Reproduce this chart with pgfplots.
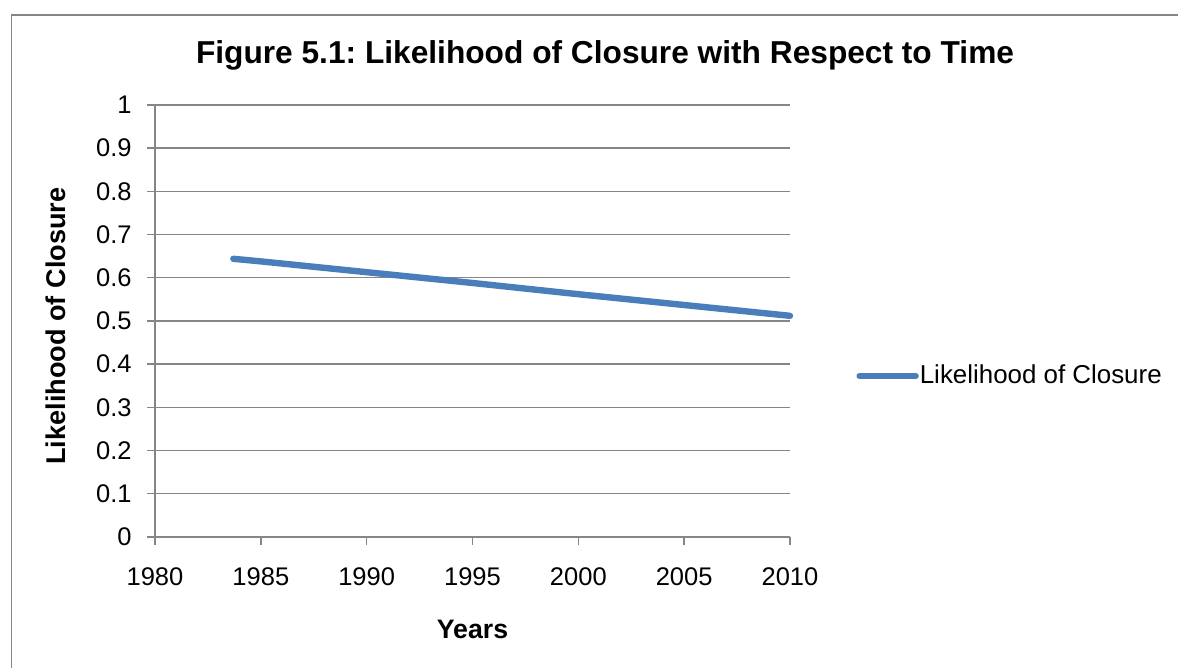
\documentclass[border=0pt]{standalone}
\usepackage{fontspec}
\setmainfont{Liberation Sans}
\usepackage{pgfplots}
\pgfplotsset{compat=1.18}
\definecolor{exblue}{HTML}{4A7EBB}
\definecolor{exgray}{HTML}{868686}
\frenchspacing
\begin{document}
\begin{tikzpicture}
\useasboundingbox (0,0) rectangle (589bp,334bp);
\draw[exgray, line width=0.7bp] (5.75bp,-10bp) -- (5.75bp,326.5bp) -- (600bp,326.5bp);
\node[font=\fontsize{15.9}{17}\selectfont\bfseries, anchor=base] at (302.5bp,302bp) {Figure 5.1: Likelihood of Closure with Respect to Time};
\begin{axis}[
  at={(77.5bp,65.5bp)}, anchor=south west,
  scale only axis, width=317.5bp, height=216bp,
  xmin=1980, xmax=2010, ymin=0, ymax=1,
  xtick={1980,1985,...,2010},
  ytick={0,0.1,...,1.01},
  /pgf/number format/1000 sep={},
  /pgf/number format/assume math mode=true,
  ymajorgrids, major grid style={exgray, line width=0.7bp},
  axis line style={exgray, line width=0.7bp},
  axis x line*=bottom, axis y line*=left,
  tick align=outside, major tick length=4bp,
  tick style={exgray, line width=0.7bp},
  tick label style={font=\fontsize{12.8}{14}\selectfont},
  yticklabel style={anchor=east, inner sep=0pt, xshift=-7.5bp},
  xticklabel style={anchor=north, inner sep=0pt, yshift=-11bp},
  x axis line style={-}, y axis line style={-},
  xlabel={\textbf{Years}},
  ylabel={\textbf{Likelihood of Closure}},
  xlabel style={font=\fontsize{13.4}{14}\selectfont, at={(0.5,-0.235)}, anchor=base},
  ylabel style={font=\fontsize{13.6}{14}\selectfont, at={(-0.141,0.488)}, anchor=base},
  legend style={draw=none, at={(1.104,0.3727)}, anchor=west, font=\fontsize{13}{14}\selectfont, inner sep=0pt, nodes={inner sep=0.5bp}, legend cell align=left},
  legend image code/.code={\draw[#1, line cap=round] (0bp,0bp) -- (28bp,0bp);},
  clip=false,
]
\addplot[exblue, line width=3.2bp, line cap=round] coordinates {
(1983.7,0.644) (1985,0.638) (1990,0.613) (1995,0.588) (2000,0.562) (2005,0.537) (2010,0.512)
};
\addlegendentry{Likelihood of Closure}
\end{axis}
\end{tikzpicture}
\end{document}
